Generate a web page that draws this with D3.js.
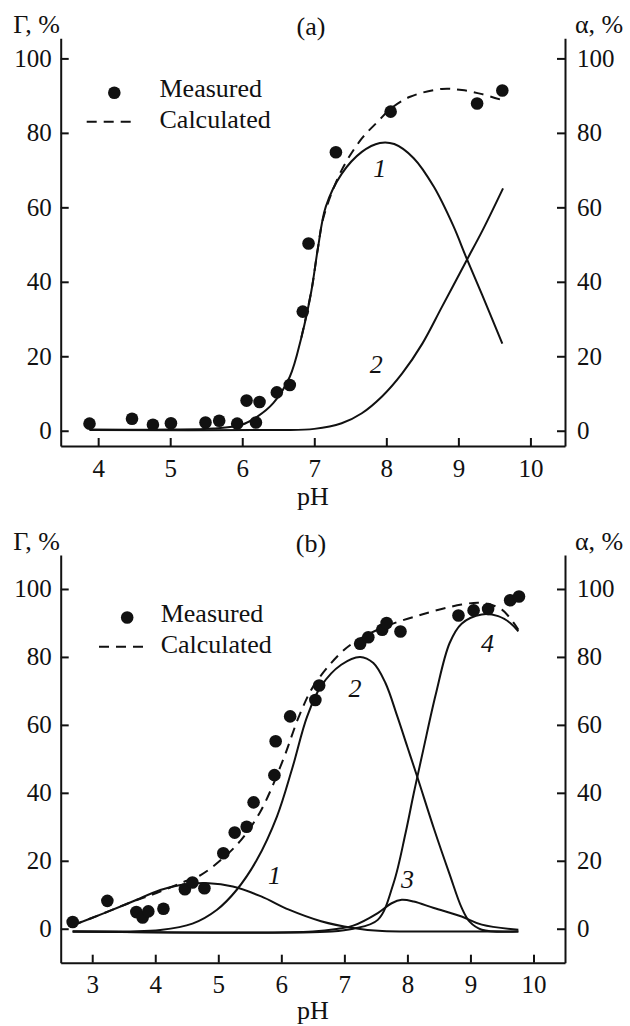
<!DOCTYPE html>
<html>
<head>
<meta charset="utf-8">
<script src="https://cdn.jsdelivr.net/npm/d3@7"></script>
<style>
  html, body { margin: 0; padding: 0; background: #fff; }
  svg { display: block; }
  text { fill: #111; }
</style>
</head>
<body>
<svg id="chart" width="630" height="1026"></svg>
<script>
// ---------- DATA ----------
// Panel (a)
const xTicksA = [4, 5, 6, 7, 8, 9, 10];
const yTicks = [0, 20, 40, 60, 80, 100];
const measuredA = [
  [3.88, 1.9], [4.47, 3.2], [4.76, 1.6], [5.01, 2.0], [5.49, 2.2], [5.68, 2.7],
  [5.93, 1.9], [6.06, 8.1], [6.19, 2.2], [6.24, 7.7], [6.48, 10.3], [6.66, 12.3],
  [6.84, 32.0], [6.92, 50.3], [7.30, 74.8], [8.06, 85.7], [9.26, 87.9], [9.61, 91.4]
];
const calculatedA = [
  [6.82, 25], [6.96, 37.6], [7.05, 49], [7.13, 57.5], [7.38, 70], [7.66, 78.5],
  [7.88, 83], [8.06, 86.5], [8.33, 89.7], [8.77, 91.8], [9.05, 91.5], [9.33, 90.4], [9.61, 88.8]
];
const curveA1 = [
  [3.88, 0.3], [5.0, 0.3], [5.6, 0.6], [5.99, 1.6], [6.21, 3.8], [6.43, 7.4],
  [6.66, 14.5], [6.82, 25], [6.96, 37.6], [7.05, 49], [7.16, 60.2], [7.38, 69],
  [7.66, 74.9], [7.91, 77.3], [8.11, 77], [8.38, 73.2], [8.66, 65.5], [8.93, 55],
  [9.11, 46.5], [9.33, 36.5], [9.61, 23.4]
];
const curveA2 = [
  [3.88, 0.2], [6.5, 0.2], [7.0, 0.5], [7.38, 2], [7.66, 4.7], [7.94, 9.2],
  [8.22, 15.4], [8.5, 23.4], [8.77, 33.2], [9.11, 45.6], [9.33, 53.6], [9.62, 65.1]
];
const curveLabelsA = [["1", 7.91, 70.5], ["2", 7.86, 18]];

// Panel (b)
const xTicksB = [3, 4, 5, 6, 7, 8, 9, 10];
const measuredB = [
  [2.69, 1.96], [3.24, 8.2], [3.70, 4.9], [3.80, 3.3], [3.89, 5.1], [4.13, 5.9],
  [4.47, 11.6], [4.59, 13.6], [4.78, 11.9], [5.08, 22.2], [5.26, 28.3], [5.45, 30.0],
  [5.56, 37.2], [5.89, 45.2], [5.91, 55.2], [6.14, 62.5], [6.54, 67.3], [6.60, 71.6],
  [7.25, 83.9], [7.38, 85.8], [7.60, 88.0], [7.67, 90.0], [7.89, 87.5], [8.81, 92.2],
  [9.05, 93.7], [9.28, 94.1], [9.63, 96.7], [9.77, 97.8]
];
const calculatedB = [
  [2.69, 1.0], [3.19, 4.6], [3.64, 8.0], [4.02, 10.5], [4.40, 13.4], [4.72, 15.8],
  [5.04, 20.2], [5.36, 26.1], [5.68, 34.9], [6.03, 49.8], [6.28, 62.5], [6.51, 71.4],
  [6.89, 80.2], [7.14, 84.1], [7.59, 88.5], [8.23, 92.5], [8.86, 95.4], [9.18, 95.9],
  [9.5, 93.9], [9.76, 88.0]
];
const curveB1 = [
  [2.69, 1.0], [3.19, 4.6], [3.64, 8.0], [4.08, 11.4], [4.40, 12.9], [4.85, 13.4],
  [5.23, 12.4], [5.68, 9.5], [6.12, 5.6], [6.63, 2.2], [7.14, 0.2], [7.6, -0.7],
  [8.5, -0.8], [9.76, -0.8]
];
const curveB2 = [
  [2.69, -0.8], [3.6, -0.8], [4.08, -0.4], [4.59, 1.5], [4.98, 5.6], [5.29, 11.4],
  [5.61, 20.2], [5.93, 33], [6.17, 47], [6.41, 62.5], [6.63, 71.4], [6.95, 77.7],
  [7.25, 80], [7.46, 78.2], [7.65, 72.4], [7.84, 62.5], [8.0, 53.5], [8.16, 44.5],
  [8.42, 29.5], [8.67, 16], [8.86, 6.2], [8.99, 2], [9.18, -0.3], [9.76, -0.8]
];
const curveB3 = [
  [2.69, -0.8], [6.5, -0.8], [6.9, 0], [7.14, 0.9], [7.53, 4.6], [7.75, 7.5],
  [7.91, 8.5], [8.10, 8.0], [8.42, 6.1], [8.86, 3.6], [9.18, 1.2], [9.76, -0.3]
];
const curveB4 = [
  [2.69, -0.8], [6.8, -0.8], [7.14, 0], [7.53, 2.6], [7.78, 13.4], [7.97, 28.1],
  [8.10, 39.8], [8.25, 52.5], [8.45, 69], [8.67, 84.1], [8.86, 89.8], [9.18, 92.5],
  [9.44, 92], [9.63, 90], [9.76, 87.5]
];
const curveLabelsB = [["1", 5.89, 15.8], ["2", 7.17, 70.9], ["3", 8.0, 14.6], ["4", 9.27, 84.1]];

// ---------- DRAW ----------
const svg = d3.select("#chart");
const INK = "#111";
const FONT = "'Liberation Serif', 'Times New Roman', Times, Tinos, 'Nimbus Roman', 'Nimbus Roman No9 L', FreeSerif, 'Noto Serif', 'DejaVu Serif', serif";

function panel(cfg) {
  const g = svg.append("g");
  const x = d3.scaleLinear().domain(cfg.xDomain).range([60.7, 565]);
  const y = d3.scaleLinear().domain(cfg.yDomain).range([cfg.yBottom, cfg.yTop]);

  const styleAxis = sel => {
    sel.attr("font-family", FONT).attr("font-size", 25);
    sel.selectAll("path.domain").attr("stroke", INK).attr("stroke-width", 2);
    sel.selectAll(".tick line").attr("stroke", INK).attr("stroke-width", 2);
    sel.selectAll(".tick text")
      .attr("fill", INK)
      .attr("font-family", FONT)
      .attr("font-size", 25);
  };
  const fmt = d3.format("d");

  g.append("g").attr("transform", `translate(${x.range()[0]},0)`)
    .call(d3.axisLeft(y).tickValues(yTicks).tickFormat(fmt).tickSizeInner(-8).tickSizeOuter(0).tickPadding(9))
    .call(styleAxis);
  g.append("g").attr("transform", `translate(${x.range()[1]},0)`)
    .call(d3.axisRight(y).tickValues(yTicks).tickFormat(fmt).tickSizeInner(-8).tickSizeOuter(0).tickPadding(12))
    .call(styleAxis);
  g.append("g").attr("transform", `translate(0,${cfg.yBottom})`)
    .call(d3.axisBottom(x).tickValues(cfg.xTicks).tickFormat(fmt).tickSizeInner(-8).tickSizeOuter(0).tickPadding(13))
    .call(styleAxis);

  const line = d3.line()
    .x(d => x(d[0])).y(d => y(d[1]))
    .curve(d3.curveCatmullRom.alpha(0.5));

  cfg.curves.forEach(c => {
    g.append("path").datum(c)
      .attr("d", line).attr("fill", "none")
      .attr("stroke", INK).attr("stroke-width", 2);
  });
  g.append("path").datum(cfg.calc)
    .attr("d", line).attr("fill", "none")
    .attr("stroke", INK).attr("stroke-width", 2)
    .attr("stroke-dasharray", "10,7");

  g.selectAll("circle.m").data(cfg.measured).join("circle")
    .attr("class", "m")
    .attr("cx", d => x(d[0])).attr("cy", d => y(d[1]))
    .attr("r", 6.3).attr("fill", INK);

  g.selectAll("text.cl").data(cfg.labels).join("text")
    .attr("class", "cl")
    .attr("x", d => x(d[1])).attr("y", d => y(d[2]))
    .attr("dy", "0.35em")
    .attr("text-anchor", "middle")
    .attr("font-family", FONT)
    .attr("font-style", "italic")
    .attr("font-size", 26)
    .text(d => d[0]);

  const txt = (xx, yy, s, anchor) => g.append("text")
    .attr("x", xx).attr("y", yy)
    .attr("text-anchor", anchor || "start")
    .attr("font-family", FONT).attr("font-size", 26)
    .text(s);

  // titles
  txt(13.3, cfg.titleBase, "Γ, %");
  txt(575, cfg.titleBase, "α, %");
  txt(311, cfg.titleBase + 2, cfg.tag, "middle");
  txt((x.range()[0] + x.range()[1]) / 2, cfg.pHBase, "pH", "middle");

  // legend
  const L = cfg.legend;
  g.append("circle").attr("cx", L.dotX).attr("cy", L.y1 - 4).attr("r", 6.3).attr("fill", INK);
  txt(L.textX, L.y1, "Measured");
  g.append("line").attr("x1", L.dashX1).attr("x2", L.dashX2)
    .attr("y1", L.y2 - 6.6).attr("y2", L.y2 - 6.6)
    .attr("stroke", INK).attr("stroke-width", 2).attr("stroke-dasharray", "10,7");
  txt(L.textX, L.y2, "Calculated");
}

panel({
  xDomain: [3.48, 10.48], yDomain: [-4.1, 105.4], yBottom: 446, yTop: 38.3, pHBase: 505,
  xTicks: xTicksA, measured: measuredA, calc: calculatedA, curves: [curveA1, curveA2],
  labels: curveLabelsA, tag: "(a)", titleBase: 33.3,
  legend: { dotX: 114.3, textX: 159.5, y1: 96.7, y2: 128.3, dashX1: 86.7, dashX2: 136 }
});
panel({
  xDomain: [2.5, 10.5], yDomain: [-10, 110], yBottom: 962.7, yTop: 555, pHBase: 1019,
  xTicks: xTicksB, measured: measuredB, calc: calculatedB, curves: [curveB1, curveB2, curveB3, curveB4],
  labels: curveLabelsB, tag: "(b)", titleBase: 550,
  legend: { dotX: 127.2, textX: 160.7, y1: 621.5, y2: 653.3, dashX1: 99, dashX2: 150 }
});
</script>
</body>
</html>
